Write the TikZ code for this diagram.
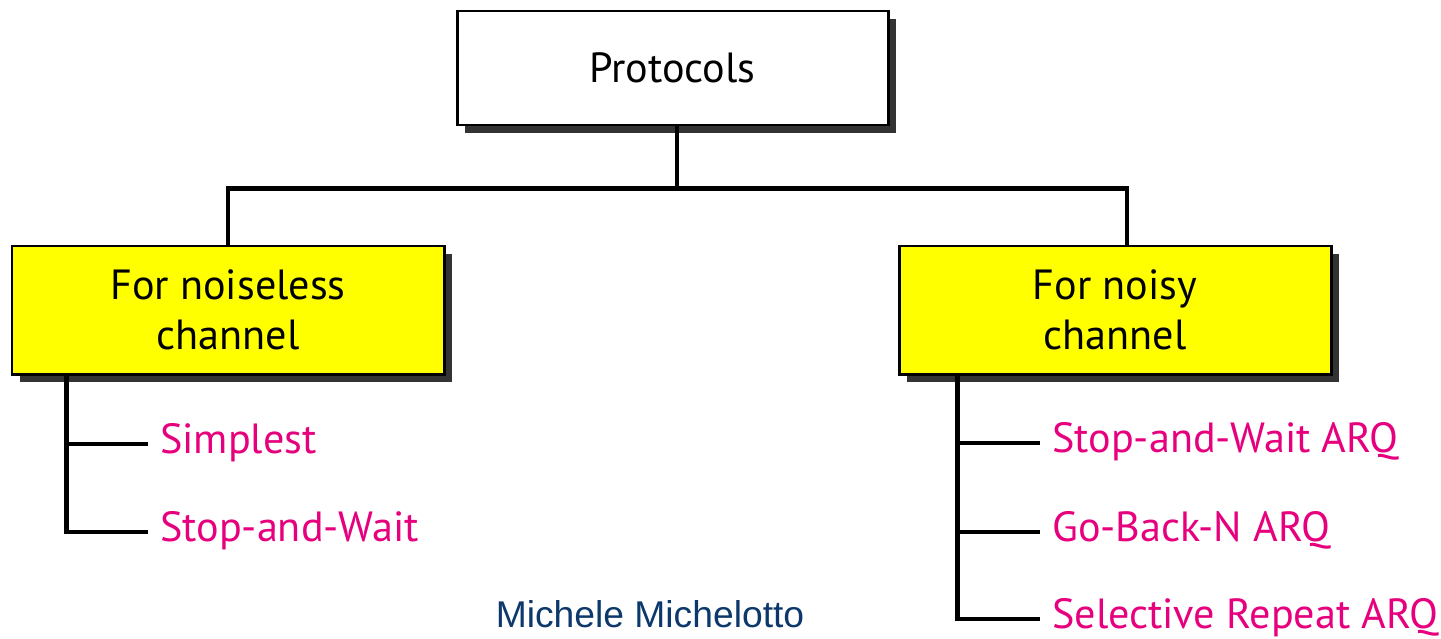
\documentclass[tikz,border=0pt]{standalone}
\usepackage{fontspec}
\setmainfont{PT Sans}
\newfontfamily\namefont{Liberation Sans}
\usetikzlibrary{shadows}
\definecolor{boxyellow}{RGB}{255,255,0}
\definecolor{leafpink}{RGB}{230,0,126}
\definecolor{nameblue}{RGB}{12,56,108}

\begin{document}
\begin{tikzpicture}[
    line width=2.5pt,
    box/.style={draw, line width=1.7pt, align=center,
      minimum width=8.62cm, minimum height=2.28cm,
      font=\fontsize{24}{28.5}\selectfont,
      drop shadow={shadow xshift=0.16cm, shadow yshift=-0.16cm, fill=black!80, opacity=1}},
    leaf/.style={anchor=west, inner xsep=0.2cm, text=leafpink,
      font=\fontsize{24}{28.5}\selectfont, text height=1.1em, text depth=0pt}
  ]
  \useasboundingbox (0,0) rectangle (28.82,-12.76);

  % 上の箱
  \node[box, fill=white] (proto) at (13.45,-1.36) {Protocols};

  % 二つのチャネル
  \node[box, fill=boxyellow, minimum width=8.64cm, minimum height=2.56cm] (noiseless) at (4.56,-6.2) {For noiseless\\channel};
  \node[box, fill=boxyellow, minimum width=8.64cm, minimum height=2.56cm] (noisy) at (22.3,-6.2) {For noisy\\channel};

  % 上から下への線
  \draw ([xshift=0.09cm]proto.south) -- ++(0,-1.24) coordinate (bus);
  \draw (noiseless.north) |- (bus) -| ([xshift=0.24cm]noisy.north);

  % 雑音なしの方式
  \node[leaf] (simplest) at (2.96,-8.88) {Simplest};
  \node[leaf] (saw) at (2.96,-10.64) {Stop-and-Wait};
  \coordinate (ltrunk) at ([xshift=1.12cm]noiseless.south west);
  \draw (ltrunk) |- (simplest.west);
  \draw (ltrunk) |- (saw.west);

  % 雑音ありの方式
  \node[leaf] (sawarq) at (20.8,-8.86) {Stop-and-Wait ARQ};
  \node[leaf] (gbn) at (20.8,-10.64) {Go-Back-N ARQ};
  \node[leaf] (srarq) at (20.8,-12.38) {Selective Repeat ARQ};
  \coordinate (rtrunk) at ([xshift=1.2cm]noisy.south west);
  \draw (rtrunk) |- (sawarq.west);
  \draw (rtrunk) |- (gbn.west);
  \draw (rtrunk) |- (srarq.west);

  % 名前
  \node[anchor=base, text=nameblue, font=\namefont\fontsize{21.2}{25}\selectfont] (author) at (13.0,-12.54) {Michele Michelotto};
\end{tikzpicture}
\end{document}
